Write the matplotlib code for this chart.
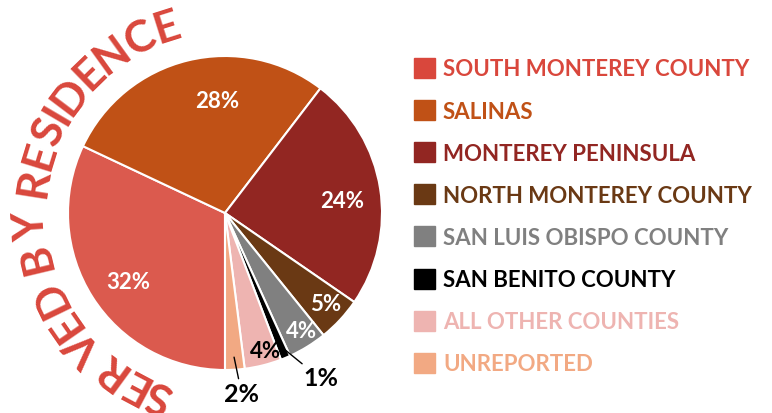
import numpy as np
import matplotlib
matplotlib.use('Agg')
import matplotlib.pyplot as plt
from matplotlib.font_manager import FontProperties, findfont, get_font
from matplotlib.patches import Rectangle

# data
categories = ['SOUTH MONTEREY COUNTY', 'SALINAS', 'MONTEREY PENINSULA',
              'NORTH MONTEREY COUNTY', 'SAN LUIS OBISPO COUNTY',
              'SAN BENITO COUNTY', 'ALL OTHER COUNTIES', 'UNREPORTED']
shares = [32.0, 28.4, 24.2, 4.6, 4.0, 1.0, 3.8, 2.0]
title = 'SERVED BY RESIDENCE'

# styles
slice_colors = ['#DB5A4E', '#C05116', '#922622', '#6A3914', '#808080',
                '#000000', '#EEB4B1', '#F2A983']
legend_colors = ['#D9473C', '#C05116', '#922622', '#6A3914', '#808080',
                 '#000000', '#EEB4B1', '#F2A983']
label_colors = ['white', 'white', 'white', 'white', 'white', 'black', 'black', 'black']
label_sizes = [16, 16, 16, 16, 16, 18, 16, 18]
# (radius fraction, angle offset in degrees) for each percentage label
label_pos = [(0.76, 3.4), (0.71, -9.7), (0.75, -3.6), (0.87, 0.5),
             (0.90, 1.0), (1.22, 7.3), (0.92, 2.4), (1.16, 1.7)]
leaders = [False, False, False, False, False, True, False, True]

W, H = 772, 413
fig = plt.figure(figsize=(W / 100, H / 100), dpi=100)
ax = fig.add_axes([0, 0, 1, 1])

cx, cy, R = 225, 200, 157
wedges, _ = ax.pie(shares, colors=slice_colors, startangle=270, counterclock=False,
                   center=(cx, cy), radius=R, frame=True,
                   wedgeprops=dict(edgecolor='white', linewidth=1.5))
ax.set_xlim(0, W)
ax.set_ylim(0, H)
ax.set_aspect('equal')
ax.axis('off')

font = 'Lato'
cum = np.cumsum([0] + shares)
for i, w in enumerate(wedges):
    mid = 270 - 360 * (cum[i] + shares[i] / 2) / 100
    rf, dth = label_pos[i]
    a = np.radians(mid + dth)
    tx, ty = cx + rf * R * np.cos(a), cy + rf * R * np.sin(a)
    txt = f'{shares[i]:.0f}%'
    if leaders[i]:
        am = np.radians(mid)
        px, py = cx + 0.92 * R * np.cos(am), cy + 0.92 * R * np.sin(am)
        ax.annotate(txt, xy=(px, py), xytext=(tx, ty), ha='center', va='center',
                    fontsize=label_sizes[i], fontweight='bold', family=font,
                    color=label_colors[i],
                    arrowprops=dict(arrowstyle='-', color='black', lw=1,
                                    shrinkA=1, shrinkB=0))
    else:
        ax.text(tx, ty, txt, ha='center', va='center', fontsize=label_sizes[i],
                fontweight='bold', family=font, color=label_colors[i])

# legend
for i, cat in enumerate(categories):
    yc = H - 68 - i * 42.1
    ax.add_patch(Rectangle((414, yc - 10), 21, 20, color=legend_colors[i]))
    ax.text(443, yc, cat, ha='left', va='center_baseline', fontsize=16,
            fontweight='bold', family=font, color=legend_colors[i])

# curved title along the left side of the pie, spaced by glyph ink width
title_size = 32
prop = FontProperties(family=font, weight='bold', size=title_size)
ft = get_font(findfont(prop))
ft.set_size(title_size, 100)
gap = 0.1 * title_size * 100 / 72
widths = []
for c in title:
    g = ft.load_char(ord(c))
    widths.append(g.linearHoriAdvance / 65536 if c == ' ' else g.width / 64 + gap)
edges = np.concatenate([[0], np.cumsum(widths)])
centers = (edges[:-1] + edges[1:]) / 2
th0, th1 = 249.8, 107.6
span = centers[-1] - centers[0]
Rb = 181
for k, ch in enumerate(title):
    if ch == ' ':
        continue
    th = th0 - (centers[k] - centers[0]) / span * (th0 - th1)
    a = np.radians(th)
    ax.text(cx + Rb * np.cos(a), cy + Rb * np.sin(a), ch, fontproperties=prop,
            color='#D9473C', ha='center', va='baseline', rotation=th - 90,
            rotation_mode='anchor')

fig.savefig('out.png', dpi=100)
